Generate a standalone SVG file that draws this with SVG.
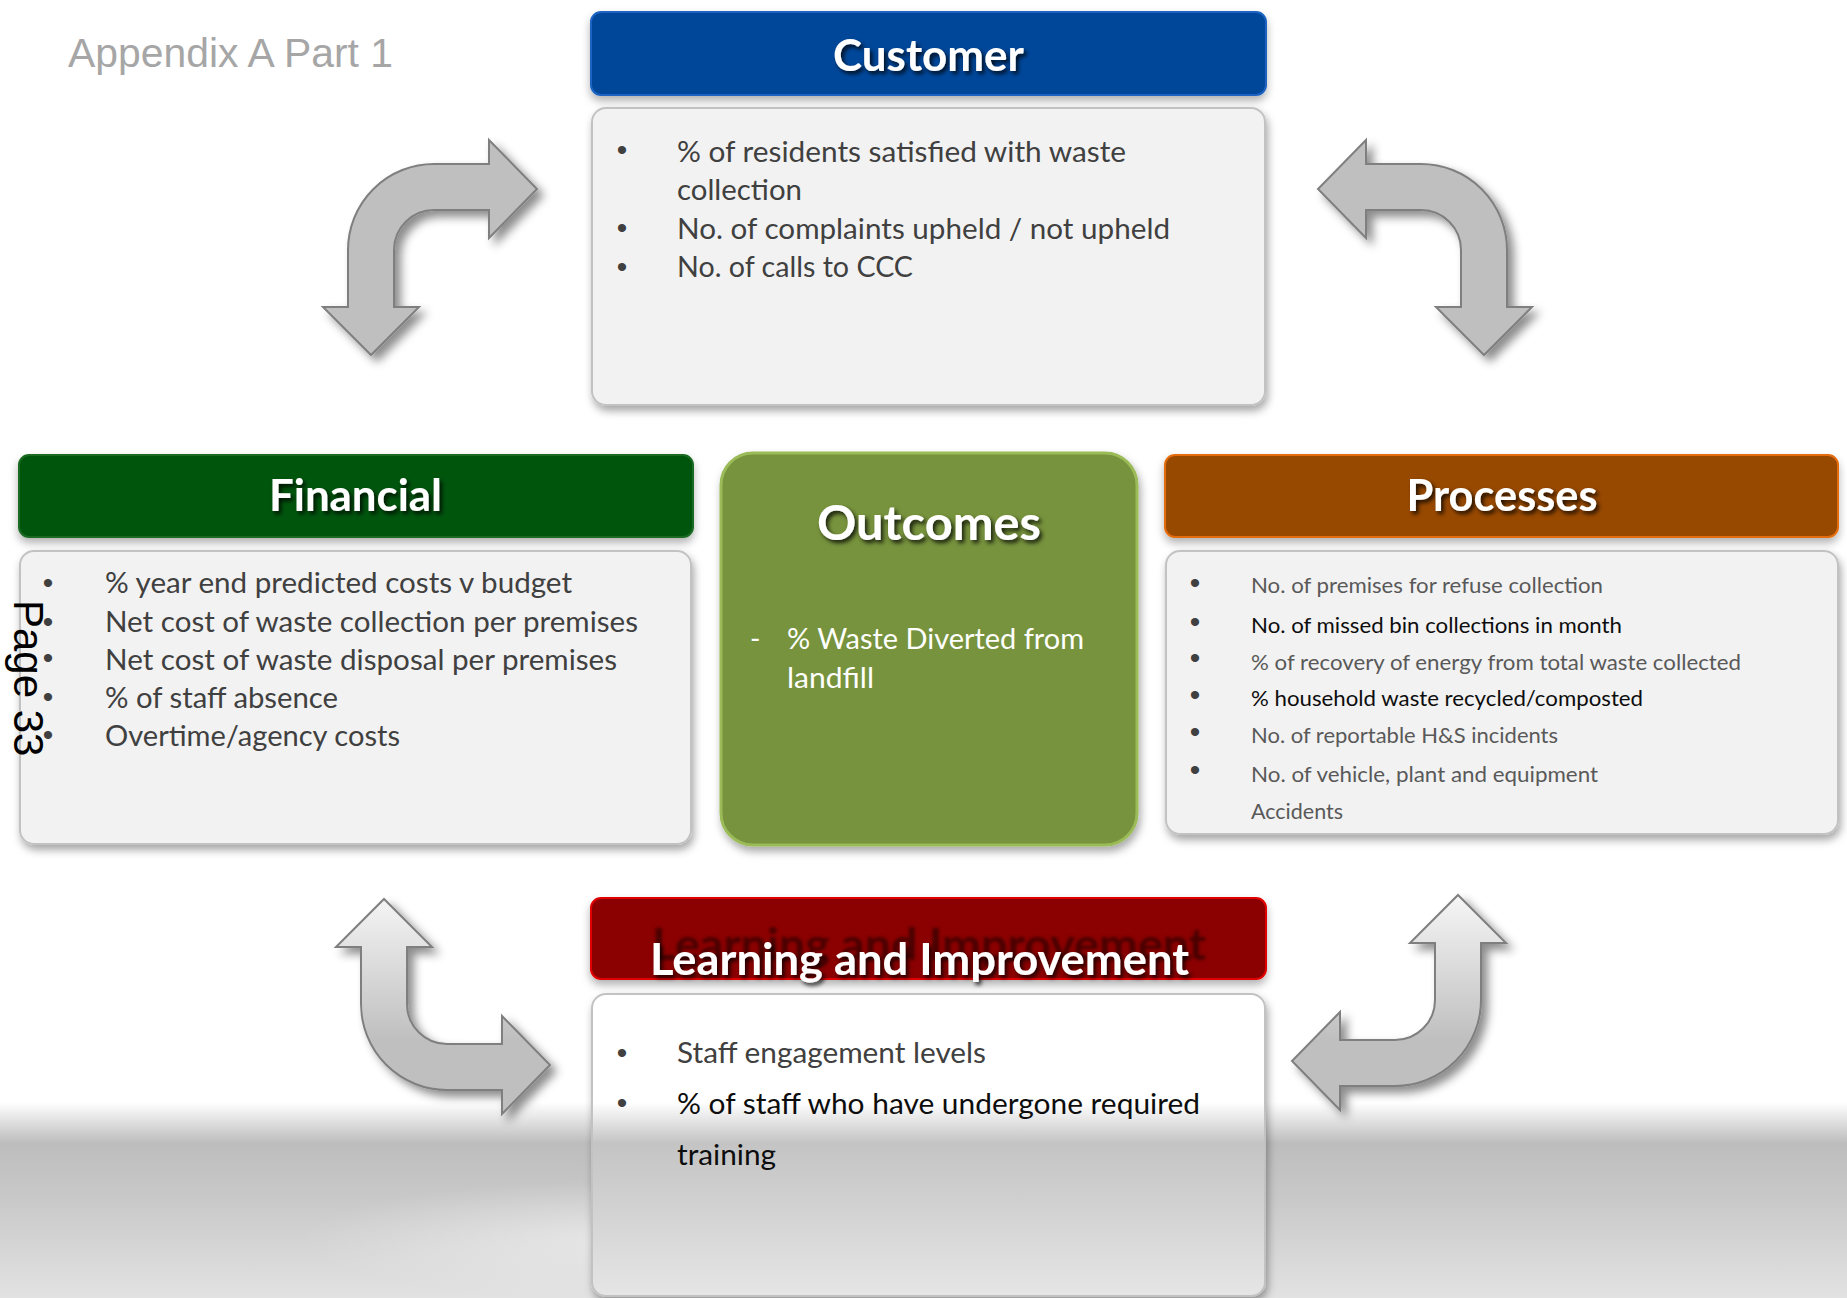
<svg xmlns="http://www.w3.org/2000/svg" width="1847" height="1298" viewBox="0 0 1847 1298">
  <defs>
    <style>
      .title{font-family:Lato,"Open Sans",sans-serif;font-weight:700;fill:#fff;text-anchor:middle;filter:url(#txtShadow)}
      .body{fill:#f2f2f2;stroke:#c2c2c2;stroke-width:2;filter:url(#boxShadow)}
      .hdr{stroke-width:2;filter:url(#hdrShadow)}
      .item{font-family:Lato,"Open Sans",sans-serif;font-size:29px;fill:#404040}
      .small{font-size:21px;fill:#595959}
      .dark{fill:#0d0d0d}
      .bul{font-family:"Liberation Sans",Arial,sans-serif;font-size:30px;fill:#404040;text-anchor:middle}
      .arrow{stroke:#7f7f7f;stroke-width:2;filter:url(#arrowShadow)}
    </style>
    <filter id="txtShadow" x="-10%" y="-30%" width="120%" height="160%">
      <feDropShadow dx="2.5" dy="3" stdDeviation="2" flood-color="#000" flood-opacity="0.8"/>
    </filter>
    <filter id="boxShadow" x="-5%" y="-5%" width="112%" height="115%">
      <feDropShadow dx="2" dy="5" stdDeviation="4" flood-color="#000" flood-opacity="0.35"/>
    </filter>
    <filter id="hdrShadow" x="-5%" y="-10%" width="110%" height="140%">
      <feDropShadow dx="0" dy="5" stdDeviation="4" flood-color="#000" flood-opacity="0.3"/>
    </filter>
    <filter id="arrowShadow" x="-20%" y="-20%" width="150%" height="150%">
      <feDropShadow dx="6" dy="6" stdDeviation="5" flood-color="#000" flood-opacity="0.45"/>
    </filter>
    <filter id="soft" x="-5%" y="-30%" width="110%" height="160%">
      <feGaussianBlur stdDeviation="1.5"/>
    </filter>
    <linearGradient id="floor" gradientUnits="userSpaceOnUse" x1="0" y1="1090" x2="0" y2="1298">
      <stop offset="0" stop-color="#fff"/>
      <stop offset="0.06" stop-color="#fff"/>
      <stop offset="0.255" stop-color="#bdbdbd"/>
      <stop offset="0.53" stop-color="#c9c9c9"/>
      <stop offset="1" stop-color="#e2e2e2"/>
    </linearGradient>
    <linearGradient id="floorBox" gradientUnits="userSpaceOnUse" x1="0" y1="1090" x2="0" y2="1298">
      <stop offset="0" stop-color="#fff"/>
      <stop offset="0.06" stop-color="#fff"/>
      <stop offset="0.255" stop-color="#c4c4c4"/>
      <stop offset="0.53" stop-color="#d0d0d0"/>
      <stop offset="1" stop-color="#e6e6e6"/>
    </linearGradient>
    <radialGradient id="glow" cx="0.5" cy="0.5" r="0.5">
      <stop offset="0" stop-color="#fff" stop-opacity="0.45"/>
      <stop offset="1" stop-color="#fff" stop-opacity="0"/>
    </radialGradient>
    <linearGradient id="arrowLight" gradientUnits="userSpaceOnUse" x1="0" y1="900" x2="0" y2="1040">
      <stop offset="0" stop-color="#f4f4f4"/>
      <stop offset="1" stop-color="#bfbfbf"/>
    </linearGradient>
  </defs>

  <rect width="1847" height="1298" fill="#fff"/>

  <!-- floor band with soft reflection -->
  <rect x="0" y="1090" width="1847" height="208" fill="url(#floor)"/>
  <ellipse cx="630" cy="1240" rx="330" ry="60" fill="url(#glow)"/>

  <text x="68" y="67" font-family="'Liberation Sans',Arial,sans-serif" font-size="40" fill="#a6a6a6" textLength="325" lengthAdjust="spacingAndGlyphs">Appendix A Part 1</text>

  <!-- Customer -->
  <g id="customer">
    <rect class="hdr" x="591" y="12" width="675" height="83" rx="10" fill="#00479a" stroke="#1b63c2"/>
    <text class="title" x="928.5" y="71" font-size="43" textLength="191" lengthAdjust="spacingAndGlyphs">Customer</text>
    <rect class="body" x="592" y="108" width="673" height="297" rx="14"/>
    <text class="bul" x="622" y="160">•</text>
    <text class="bul" x="622" y="238">•</text>
    <text class="bul" x="622" y="277">•</text>
    <text class="item" x="677" y="162" textLength="449" lengthAdjust="spacingAndGlyphs">% of residents satisfied with waste</text>
    <text class="item" x="677" y="200" textLength="125" lengthAdjust="spacingAndGlyphs">collection</text>
    <text class="item" x="677" y="239" textLength="493" lengthAdjust="spacingAndGlyphs">No. of complaints upheld / not upheld</text>
    <text class="item" x="677" y="277" textLength="236" lengthAdjust="spacingAndGlyphs">No. of calls to CCC</text>
  </g>

  <!-- Financial -->
  <g id="financial">
    <rect class="hdr" x="19" y="455" width="674" height="82" rx="10" fill="#04540f" stroke="#1a6a22"/>
    <text class="title" x="355.5" y="511" font-size="43" textLength="173" lengthAdjust="spacingAndGlyphs">Financial</text>
    <rect class="body" x="20" y="551" width="671" height="293" rx="14"/>
    <text class="bul" x="48" y="593">•</text>
    <text class="bul" x="48" y="632">•</text>
    <text class="bul" x="48" y="668">•</text>
    <text class="bul" x="48" y="707">•</text>
    <text class="bul" x="48" y="745">•</text>
    <text class="item" x="105" y="593" textLength="467" lengthAdjust="spacingAndGlyphs">% year end predicted costs v budget</text>
    <text class="item" x="105" y="632" textLength="533" lengthAdjust="spacingAndGlyphs">Net cost of waste collection per premises</text>
    <text class="item" x="105" y="670" textLength="512" lengthAdjust="spacingAndGlyphs">Net cost of waste disposal per premises</text>
    <text class="item" x="105" y="708" textLength="233" lengthAdjust="spacingAndGlyphs">% of staff absence</text>
    <text class="item" x="105" y="746" textLength="295" lengthAdjust="spacingAndGlyphs">Overtime/agency costs</text>
  </g>

  <!-- Outcomes -->
  <g id="outcomes">
    <rect x="721" y="453" width="416" height="392" rx="32" fill="#77933c" stroke="#9bbb59" stroke-width="3" filter="url(#boxShadow)"/>
    <text class="title" x="929" y="540" font-size="47" textLength="224" lengthAdjust="spacingAndGlyphs">Outcomes</text>
    <text class="item" x="750" y="649" style="fill:#fff;font-size:28px">-</text>
    <text class="item" x="787" y="649" style="fill:#fff;font-size:28px" textLength="297" lengthAdjust="spacingAndGlyphs">% Waste Diverted from</text>
    <text class="item" x="787" y="688" style="fill:#fff;font-size:28px" textLength="87" lengthAdjust="spacingAndGlyphs">landfill</text>
  </g>

  <!-- Processes -->
  <g id="processes">
    <rect class="hdr" x="1165" y="455" width="673" height="82" rx="10" fill="#984806" stroke="#e46c0a"/>
    <text class="title" x="1502" y="511" font-size="43" textLength="191" lengthAdjust="spacingAndGlyphs">Processes</text>
    <rect class="body" x="1166" y="551" width="672" height="283" rx="14"/>
    <text class="bul" x="1195" y="593">•</text>
    <text class="bul" x="1195" y="632">•</text>
    <text class="bul" x="1195" y="668">•</text>
    <text class="bul" x="1195" y="705">•</text>
    <text class="bul" x="1195" y="742">•</text>
    <text class="bul" x="1195" y="780">•</text>
    <text class="item small" x="1251" y="593" textLength="352" lengthAdjust="spacingAndGlyphs">No. of premises for refuse collection</text>
    <text class="item small dark" x="1251" y="633" textLength="371" lengthAdjust="spacingAndGlyphs">No. of missed bin collections in month</text>
    <text class="item small" x="1251" y="670" textLength="490" lengthAdjust="spacingAndGlyphs">% of recovery of energy from total waste collected</text>
    <text class="item small dark" x="1251" y="706" textLength="392" lengthAdjust="spacingAndGlyphs">% household waste recycled/composted</text>
    <text class="item small" x="1251" y="743" textLength="307" lengthAdjust="spacingAndGlyphs">No. of reportable H&amp;S incidents</text>
    <text class="item small" x="1251" y="782" textLength="347" lengthAdjust="spacingAndGlyphs">No. of vehicle, plant and equipment</text>
    <text class="item small" x="1251" y="819" textLength="92" lengthAdjust="spacingAndGlyphs">Accidents</text>
  </g>

  <!-- Learning and Improvement: heading drawn twice, a dark offset copy behind the white one -->
  <g id="learning">
    <rect class="hdr" x="591" y="898" width="675" height="81" rx="10" fill="#8b0000" stroke="#e00000"/>
    <text x="652" y="960" font-family="Lato,'Open Sans',sans-serif" font-weight="700" font-size="44" fill="#3a0000" opacity="0.8" filter="url(#soft)" textLength="554" lengthAdjust="spacingAndGlyphs">Learning and Improvement</text>
    <text class="title" x="650" y="975" font-size="43" style="text-anchor:start" textLength="539" lengthAdjust="spacingAndGlyphs">Learning and Improvement</text>
    <rect x="592" y="994" width="673" height="302" rx="14" fill="url(#floorBox)" stroke="#c2c2c2" stroke-width="2" filter="url(#boxShadow)"/>
    <text class="bul" x="622" y="1063">•</text>
    <text class="bul" x="622" y="1113">•</text>
    <text class="item" x="677" y="1063" textLength="309" lengthAdjust="spacingAndGlyphs">Staff engagement levels</text>
    <text class="item dark" x="677" y="1114" textLength="523" lengthAdjust="spacingAndGlyphs">% of staff who have undergone required</text>
    <text class="item dark" x="677" y="1165" textLength="99" lengthAdjust="spacingAndGlyphs">training</text>
  </g>

  <!-- bent double-headed arrows between the perspectives -->
  <g id="connectors">
    <path class="arrow" fill="#bfbfbf" d="M489,164 L489,140 L537,189 L489,238 L489,210 L434,210 A40,40 0 0 0 394,250 L394,307 L419,307 L371,355 L323,307 L348,307 L348,250 A86,86 0 0 1 434,164 Z"/>
    <path class="arrow" fill="#bfbfbf" d="M1366,164 L1366,140 L1318,189 L1366,238 L1366,210 L1421,210 A40,40 0 0 1 1461,250 L1461,307 L1436,307 L1484,355 L1532,307 L1507,307 L1507,250 A86,86 0 0 0 1421,164 Z"/>
    <path class="arrow" fill="url(#arrowLight)" d="M502,1090 L502,1114 L550,1065 L502,1016 L502,1044 L447,1044 A40,40 0 0 1 407,1004 L407,947 L432,947 L384,899 L336,947 L361,947 L361,1004 A86,86 0 0 0 447,1090 Z"/>
    <path class="arrow" fill="url(#arrowLight)" d="M1340,1086 L1340,1110 L1292,1061 L1340,1012 L1340,1040 L1395,1040 A40,40 0 0 0 1435,1000 L1435,943 L1410,943 L1458,895 L1506,943 L1481,943 L1481,1000 A86,86 0 0 1 1395,1086 Z"/>
  </g>

  <text transform="translate(14,600) rotate(90)" font-family="'Liberation Sans',Arial,sans-serif" font-size="42" fill="#000">Page 33</text>
</svg>
